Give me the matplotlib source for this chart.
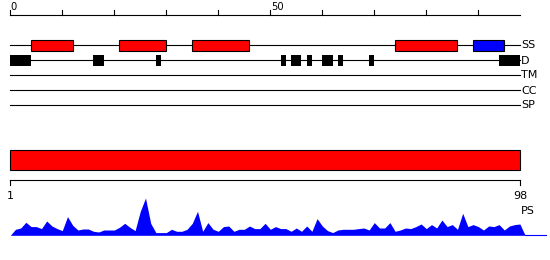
import numpy as np
import matplotlib
matplotlib.use("Agg")
import matplotlib.pyplot as plt
from matplotlib.patches import Rectangle

SEQ_LEN = 98
ruler_ticks = list(range(0, 100, 10))
ruler_labels = {0: "0", 50: "50"}
track_names = ["SS", "D", "TM", "CC", "SP"]

ss_helix = [(4, 12), (21, 30), (35, 46), (74, 86)]
ss_strand = [(89, 95)]
disorder = [(0, 4), (16, 18), (28, 29), (52, 53), (54, 56), (57, 58),
            (60, 62), (63, 64), (69, 70), (94, 98)]
domain = [(1, 98)]
bottom_ticks = [1, 98]
profile = [0, 6, 7.3, 13, 8.7, 8.7, 6.7, 14.3, 9.3, 6.7,
           4.7, 18.7, 10, 5.3, 6.3, 6.3, 4, 3.3, 5.3, 5.3,
           5.3, 8, 12, 8, 4.7, 24, 37.3, 12, 2.7, 2.7,
           2.7, 6, 4, 4, 6, 12, 24, 4, 12.7, 6,
           4, 8.7, 9.3, 4, 6, 6, 9.3, 6.7, 6.7, 12,
           6, 8.7, 6.7, 6.7, 4, 7.3, 4, 9.3, 4, 16.7,
           9.3, 4.7, 2.7, 5.3, 6, 6, 6, 6.7, 7.3, 5.3,
           12.7, 7.3, 7.3, 12.7, 4, 5.3, 7.3, 6.7, 8.7, 11.3,
           6.7, 10.7, 7.3, 15.3, 8.7, 10.7, 6, 22, 8.7, 10.7,
           8.7, 5.3, 9.3, 8.7, 10.7, 5.3, 9.3, 10.7, 11.3, 0]

W, H = 550, 260
X0, SCALE = 10.3, 5.2  # pixel of residue 0 and pixels per residue

fig = plt.figure(figsize=(W / 100, H / 100), dpi=100)
ax = fig.add_axes([0, 0, 1, 1])
ax.set_xlim(-X0 / SCALE, (W - X0) / SCALE)
ax.set_ylim(H, 0)
ax.axis("off")

lw = 0.8
fs_small = 7.2
fs_lab = 8

# top ruler
ax.plot([0, SEQ_LEN], [15, 15], color="black", lw=lw)
for t in ruler_ticks:
    ax.plot([t, t], [10, 15], color="black", lw=lw)
    if t in ruler_labels:
        ax.text(t + 0.1, 7, ruler_labels[t], ha="left", va="center",
                fontsize=fs_small, family="DejaVu Sans")

# tracks
track_y = [45, 60, 75, 90, 105]
for name, y in zip(track_names, track_y):
    ax.plot([0, SEQ_LEN], [y, y], color="black", lw=lw, zorder=1)
    ax.text(SEQ_LEN + 0.25, y + 0.5, name, ha="left", va="center",
            fontsize=fs_lab, family="DejaVu Sans")

for (s, e) in ss_helix:
    ax.add_patch(Rectangle((s, 40.3), e - s, 10.4, facecolor="#ff0000",
                           edgecolor="black", lw=lw, zorder=2))
for (s, e) in ss_strand:
    ax.add_patch(Rectangle((s, 40.3), e - s, 10.4, facecolor="#0000ff",
                           edgecolor="black", lw=lw, zorder=2))
for (s, e) in disorder:
    ax.add_patch(Rectangle((s, 55), e - s, 10.7, facecolor="black",
                           edgecolor="black", lw=0, zorder=2))

# domain box and bottom ruler
def res_pos(r):
    return (r - 1) * SEQ_LEN / (SEQ_LEN - 1)

for (s, e) in domain:
    ax.add_patch(Rectangle((res_pos(s), 150.3), res_pos(e) - res_pos(s), 20,
                           facecolor="#ff0000", edgecolor="black", lw=lw, zorder=2))
ax.plot([res_pos(bottom_ticks[0]), res_pos(bottom_ticks[-1])], [180.3, 180.3],
        color="black", lw=lw)
for t in bottom_ticks:
    ax.plot([res_pos(t), res_pos(t)], [180.3, 185], color="black", lw=lw)
    ax.text(res_pos(t), 196, str(t), ha="center", va="center",
            fontsize=fs_lab, family="DejaVu Sans")
ax.text(SEQ_LEN + 0.25, 211, "PS", ha="left", va="center",
        fontsize=fs_lab, family="DejaVu Sans")

# profile
base = 235.3
xs = np.arange(len(profile))
ys = base - np.array(profile)
ax.fill_between(xs, ys, base, color="#0000ff", lw=0)
ax.plot([xs[-1], (546 - X0) / SCALE], [base, base], color="#0000ff", lw=lw)

fig.savefig("out.png", dpi=100)
